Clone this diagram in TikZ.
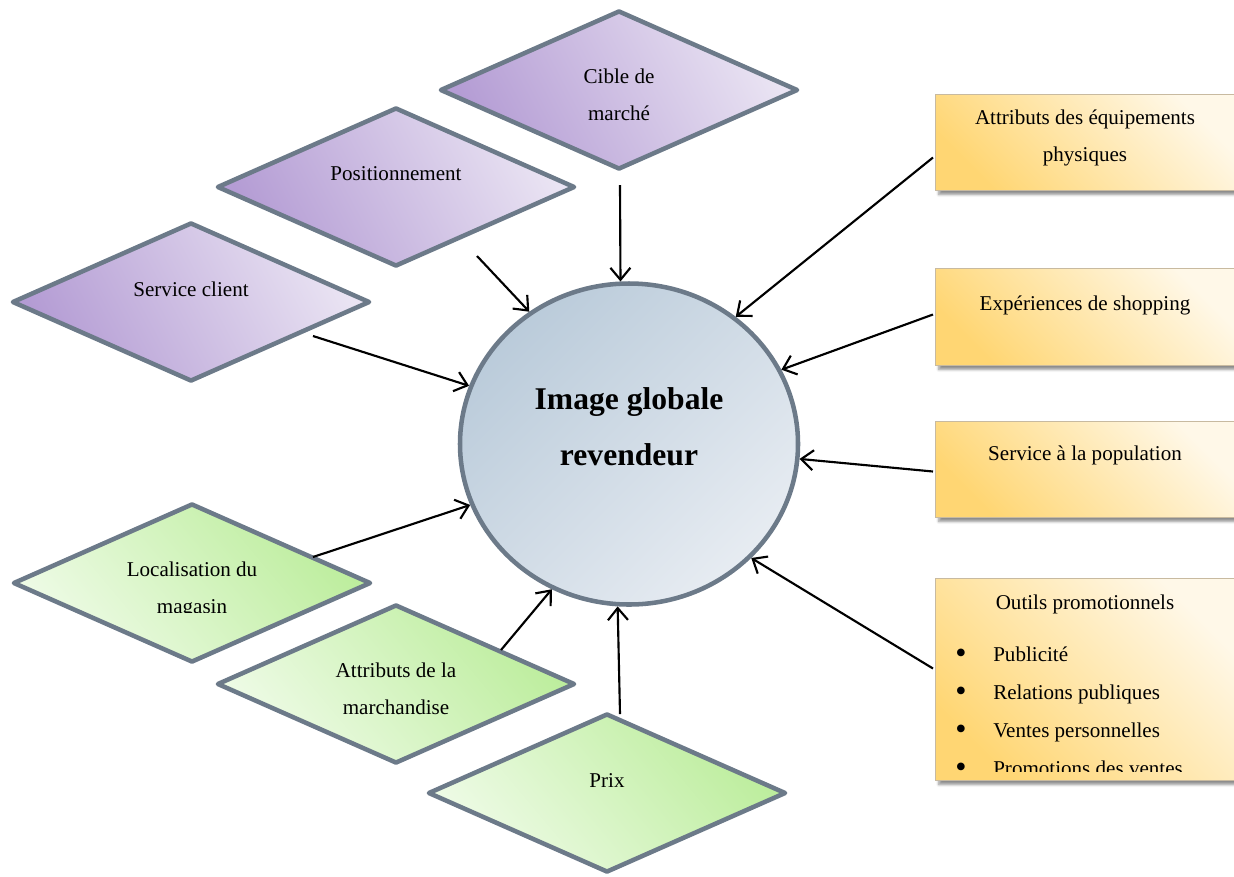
\documentclass[tikz,border=0pt]{standalone}
\usepackage{fontspec}
\setmainfont{Liberation Serif}
\usetikzlibrary{shapes.geometric,arrows.meta,shadows.blur}
\definecolor{purpleD}{RGB}{180,156,212}
\definecolor{purpleL}{RGB}{234,228,243}
\definecolor{greenD}{RGB}{188,237,156}
\definecolor{greenL}{RGB}{238,251,230}
\definecolor{orangeD}{RGB}{255,214,115}
\definecolor{orangeL}{RGB}{255,248,232}
\definecolor{circD}{RGB}{186,203,218}
\definecolor{circL}{RGB}{231,236,242}
\definecolor{edgeC}{RGB}{108,122,137}
\definecolor{boxEdge}{RGB}{200,186,160}
\tikzset{
  dia/.style={shape=diamond, draw=edgeC, line width=3.4pt, line join=round,
    minimum width=268.5pt, minimum height=119.25pt, inner sep=0pt},
  purp/.style={dia, shading=axis, top color=purpleL, bottom color=purpleD, shading angle=-62},
  gree/.style={dia, shading=axis, top color=greenD, bottom color=greenL, shading angle=-50},
  obox/.style={draw=boxEdge, line width=0.75pt, shading=axis, top color=orangeL,
    bottom color=orangeD, shading angle=-45, minimum width=225pt, inner sep=0pt,
    anchor=north west,
    blur shadow={shadow xshift=2.5pt, shadow yshift=-3pt, shadow blur steps=6, shadow blur radius=2pt, shadow opacity=45}},
  txt/.style={font=\fontsize{15.8}{27.75}\selectfont, align=center, inner sep=0pt},
  item/.style={font=\fontsize{15.8}{27.75}\selectfont, inner sep=0pt, anchor=west, text height=10.5pt, text depth=3.3pt},
  bul/.style={font=\fontsize{24}{24}\selectfont, inner sep=0pt},
  arr/.style={-{Straight Barb[length=9pt,width=15pt,line width=1.6pt]}, line width=1.6pt},
}
\begin{document}
\begin{tikzpicture}[x=0.75pt,y=-0.75pt]
\useasboundingbox (0,0) rectangle (1234,876);
% diamonds
\node[purp] (cible) at (619,90) {};
\node[purp] (posit) at (396,187) {};
\node[purp] (serv) at (191,302) {};
\node[gree] (local) at (192,583) {};
\node[gree] (attr) at (396,684) {};
\node[gree] (prix) at (607,793) {};
\node[txt] (tcible) at (619,95) {Cible de\\marché};
\node[txt] (tposit) at (396,174) {Positionnement};
\node[txt] (tserv) at (191,289) {Service client};
\begin{scope}
\clip (0,480) rectangle (380,612);
\node[txt] (tlocal) at (192,590) {Localisation du\\magasin};
\end{scope}
\node[txt] (tattr) at (396,689) {Attributs de la\\marchandise};
\node[txt] (tprix) at (607,781) {Prix};
% circle
\node[shape=ellipse, draw=edgeC, line width=3.4pt, minimum width=253.5pt, minimum height=240.75pt,
  inner sep=0pt, shading=axis, top color=circD, bottom color=circL, shading angle=45] (circ) at (629,444) {};
\node[font=\fontsize{23.7}{42}\selectfont\bfseries, align=center, inner sep=0pt] (tcirc) at (629,427) {Image globale\\revendeur};
% boxes
\node[obox, minimum height=72pt] (b1) at (935,94) {};
\node[obox, minimum height=72.75pt] (b2) at (935,268) {};
\node[obox, minimum height=72pt] (b3) at (935,421) {};
\node[obox, minimum height=151.5pt] (b4) at (935,578) {};
\node[txt] (tb1) at (1085,138) {Attributs des équipements\\physiques};
\node[txt] (tb2) at (1085,305) {Expériences de shopping};
\node[txt] (tb3) at (1085,455) {Service à la population};
\node[txt] (tb4) at (1085,604) {Outils promotionnels};
\begin{scope}
\clip (935,578) rectangle (1235,771);
\foreach \y/\t [count=\i] in {657/Publicité,695/Relations publiques,733/Ventes personnelles,771/Promotions des ventes}{
  \node[bul] (bul\i) at (961,\y-1) {\textbullet};
  \node[item] (it\i) at (993,\y) {\t};
}
\end{scope}
% arrows
\draw[arr] ([shift={(1,95)}]cible.center) -- (circ.93.2);
\draw[arr] ([shift={(81,69)}]posit.center) -- (circ.127.8);
\draw[arr] ([shift={(122,34)}]serv.center) -- (circ.160.3);
\draw[arr] ([shift={(121,-26)}]local.center) -- (circ.201.3);
\draw[arr] ([shift={(105,-34)}]attr.center) -- (circ.242.4);
\draw[arr] ([shift={(13,-79)}]prix.center) -- (circ.266.8);
\draw[arr] ([shift={(-2,15)}]b1.west) -- (circ.50);
\draw[arr] ([shift={(-2,-2.5)}]b2.west) -- (circ.26);
\draw[arr] ([shift={(-2,2)}]b3.west) -- (circ.355);
\draw[arr] ([shift={(-2,-11)}]b4.west) -- (circ.317.8);
\end{tikzpicture}
\end{document}
